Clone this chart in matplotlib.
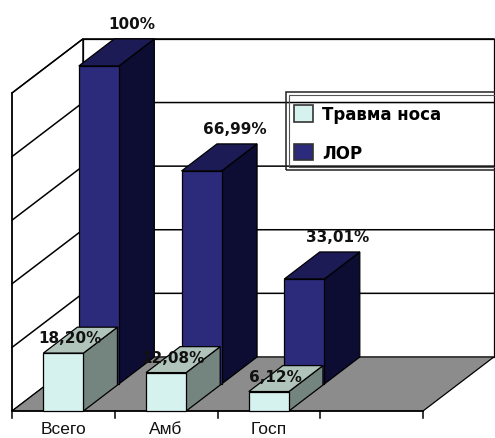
import matplotlib.pyplot as plt
from matplotlib.patches import Polygon, Patch, Rectangle

# data
categories = ['Всего', 'Амб', 'Госп']
trauma = [18.20, 12.08, 6.12]     # Травма носа
lor = [100.0, 66.99, 33.01]       # ЛОР
series_names = ['Травма носа', 'ЛОР']
y_ticks = [0, 20, 40, 60, 80, 100]

# look of the 3-D box chart
front_cols = ('#d6f2ee', '#b0c4bc', '#74847e')   # front, top, side
back_cols = ('#2c2a7a', '#1d1b55', '#0d0c33')
floor_col = '#8c8c8c'
n_slots = 4            # slots along the category axis
DX, DY = 0.69, 17.0    # oblique offset of the full depth
bar_w = 0.39

PXX, PXY = 102.75, 3.18   # pixels per category / per percent

fig = plt.figure(figsize=(4.95, 4.39), dpi=100)
ax = fig.add_axes([0, 0, 1, 1])
ax.set_xlim(-12 / PXX, (495 - 12) / PXX)
ax.set_ylim(-(439 - 412) / PXY, 412 / PXY)
ax.axis('off')


def proj(x, y, d):
    return (x + d * DX, y + d * DY)


def poly(pts, fc, z, ec='black', lw=0.9):
    ax.add_patch(Polygon(pts, closed=True, facecolor=fc, edgecolor=ec,
                         linewidth=lw, zorder=z, joinstyle='miter'))


ymax = y_ticks[-1]
# walls and floor
poly([proj(0, 0, 0), proj(0, 0, 1), proj(0, ymax, 1), proj(0, ymax, 0)], 'white', 1)
poly([proj(0, 0, 1), proj(n_slots, 0, 1), proj(n_slots, ymax, 1), proj(0, ymax, 1)],
     'white', 1)
poly([proj(0, 0, 0), proj(n_slots, 0, 0), proj(n_slots, 0, 1), proj(0, 0, 1)],
     floor_col, 2)

# gridlines on the walls
for v in y_ticks[1:]:
    xs, ys = zip(proj(0, v, 0), proj(0, v, 1), proj(n_slots, v, 1))
    ax.plot(xs, ys, color='black', lw=1.1, zorder=1.5)

# front axis with ticks
ax.plot([0, n_slots], [0, 0], color='black', lw=1.1, zorder=2.5)
ax.plot([0, 0], [0, ymax], color='black', lw=1.1, zorder=2.5)
for i in range(n_slots + 1):
    ax.plot([i, i], [0, -2.3], color='black', lw=1.1, zorder=2.5)


def box(i, val, d0, d1, cols, z):
    x0 = i + 0.5 - bar_w / 2
    x1 = x0 + bar_w
    front, top, side = cols
    poly([proj(x1, 0, d0), proj(x1, 0, d1), proj(x1, val, d1), proj(x1, val, d0)], side, z)
    poly([proj(x0, val, d0), proj(x1, val, d0), proj(x1, val, d1), proj(x0, val, d1)], top, z)
    poly([proj(x0, 0, d0), proj(x1, 0, d0), proj(x1, val, d0), proj(x0, val, d0)], front, z)


lbl = dict(fontsize=11, fontweight='bold', ha='center', va='center',
           family='DejaVu Sans', color='#111111')

# back row (ЛОР)
for i, v in enumerate(lor):
    box(i, v, 0.5, 1.0, back_cols, 3 + i * 0.1)
    cx, cy = proj(i + 0.5, v, 1.0)
    ax.text(cx - 0.02, cy + 5, f'{v:.2f}%'.replace('.', ',').replace(',00', ''),
            zorder=6, **lbl)

# front row (Травма носа)
for i, v in enumerate(trauma):
    box(i, v, 0.0, 0.48, front_cols, 4 + i * 0.1)
    cx, cy = proj(i + 0.5, v, 0.24)
    ax.text(cx - 0.1, cy + 0.8, f'{v:.2f}%'.replace('.', ','), zorder=6, **lbl)

# category labels
for i, c in enumerate(categories):
    ax.text(i + 0.5, -5.6, c, ha='center', va='center', fontsize=12.5,
            family='Liberation Sans', color='#111111')

# legend with a double-line frame
fig.patches.append(Rectangle((286 / 495, 1 - 171 / 439), 215 / 495, 78 / 439,
                             transform=fig.transFigure, fill=False,
                             edgecolor='#222222', lw=1.1))
fig.patches.append(Rectangle((289 / 495, 1 - 168 / 439), 215 / 495, 72 / 439,
                             transform=fig.transFigure, fill=False,
                             edgecolor='#555555', lw=0.8))
handles = [Patch(facecolor=front_cols[0], edgecolor='#333333', lw=1.2),
           Patch(facecolor=back_cols[0], edgecolor='#333333', lw=1.2)]
leg = ax.legend(handles, series_names, loc='upper left', frameon=False,
                bbox_to_anchor=(294 / 495, 1 - 106 / 439),
                bbox_transform=fig.transFigure, borderpad=0, borderaxespad=0,
                handlelength=1.15, handleheight=1.15, handletextpad=0.55,
                labelspacing=1.25, prop=dict(family='DejaVu Sans', weight='bold', size=12))
leg.set_zorder(7)

fig.savefig('out.png', dpi=100)
